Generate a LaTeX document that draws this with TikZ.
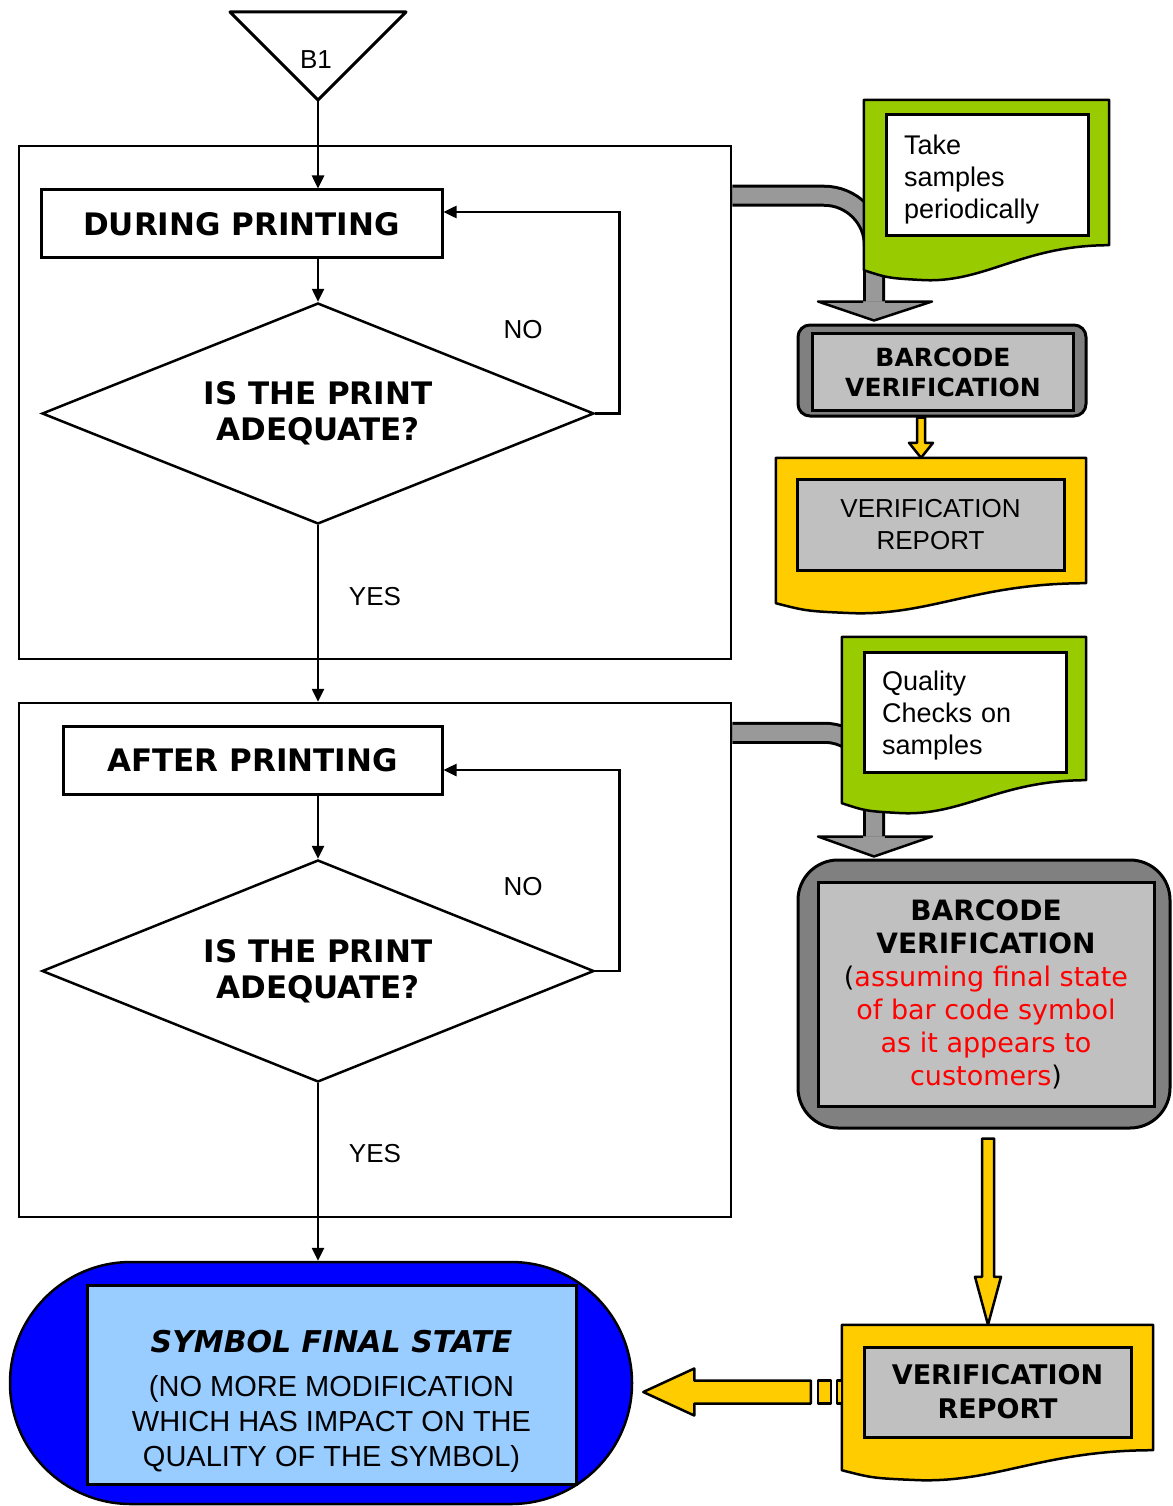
\documentclass[tikz,border=0pt]{standalone}
\usepackage{fontspec}
\setmainfont{Liberation Sans}
\newfontfamily\verdana{DejaVu Sans}
\usetikzlibrary{arrows.meta,shapes.geometric,shapes.misc,calc}

\definecolor{docgreen}{HTML}{99CC00}
\definecolor{docyellow}{HTML}{FFCC00}
\definecolor{boxgray}{HTML}{C0C0C0}
\definecolor{framegray}{HTML}{808080}
\definecolor{bandgray}{HTML}{999999}
\definecolor{finalblue}{HTML}{0000FF}
\definecolor{symbolblue}{HTML}{99CCFF}

\newcommand{\redtxt}[1]{\textcolor{red}{#1}}
\newcommand{\bigbold}[1]{{\bfseries\fontsize{28}{33}\selectfont #1}}

% document body with a wavy bottom, drawn round an empty node
\newcommand{\docbody}[3]{%
  \filldraw[fill=#2, line width=2.5pt, line join=round]
    let \p1=(#1.north west), \p2=(#1.south east), \n1={\x2-\x1} in
    (\p1) -- (\x2,\y1) -- (\p2)
    .. controls (\x2-0.35*\n1,\y2) and (\x1+0.5*\n1,\y2-#3-12) .. (\x1+0.25*\n1,\y2-#3-10)
    .. controls (\x1+0.1*\n1,\y2-#3-8) .. (\x1,\y2-#3) -- cycle;}

% vertical block arrow: style, top, tip, shaft half, head half, head length
\newcommand{\vblock}[6]{%
  \filldraw[#1] let \p1=(#2), \p2=(#3) in
    (\x1-#4,\y1) -- (\x1-#4,\y2+#6) -- (\x1-#5,\y2+#6) -- (\x1,\y2)
    -- (\x1+#5,\y2+#6) -- (\x1+#4,\y2+#6) -- (\x1+#4,\y1) -- cycle;}

\begin{document}
\begin{tikzpicture}[x=1pt, y=1pt, >={Triangle[length=13pt,width=12pt]},
    every node/.style={align=center, inner sep=0pt},
    frame/.style={draw, line width=2.5pt, minimum width=712pt},
    stagebox/.style={draw, line width=3pt, minimum height=68pt,
      font=\verdana\bfseries\fontsize{31}{36}\selectfont},
    ask/.style={draw, diamond, aspect=2.5, line width=2.5pt, minimum width=552pt, minimum height=221pt,
      font=\verdana\bfseries\fontsize{31}{36}\selectfont},
    answer/.style={font=\fontsize{26}{30}\selectfont},
    flow/.style={->, line width=2.5pt},
    note/.style={draw, line width=3pt, fill=white, text width=166pt, inner xsep=18pt,
      align=left, minimum height=121pt, font=\fontsize{27}{32}\selectfont},
    reportbox/.style={draw, line width=3pt, fill=boxgray, minimum width=267pt},
    band/.style={line width=3pt, double=bandgray, double distance=16pt, rounded corners=50pt},
    bandhead/.style={fill=bandgray, line width=2.5pt, line join=round},
    yblock/.style={fill=docyellow, line width=2.5pt, line join=round}]

  \useasboundingbox (0,0) rectangle (1172,-1506);

  % left column
  \draw[line width=3pt, line join=round] (230,-12) -- (406,-12) -- (318,-100) -- cycle;
  \coordinate (b1tip) at (318,-100);
  \node[answer] (b1) at (316,-60) {B1};

  \node[frame, minimum height=513pt] (frame1) at (375,-402.5) {};
  \node[frame, minimum height=514pt] (frame2) at (375,-960) {};

  \node[stagebox, minimum width=401pt] (during) at (241.5,-224) {DURING PRINTING};
  \node[ask] (ask1) at (318,-413.5) {IS THE PRINT\\ADEQUATE?};
  \node[stagebox, minimum width=379pt] (after) at (252.5,-760) {AFTER PRINTING};
  \node[ask, minimum height=222pt] (ask2) at (318,-971) {IS THE PRINT\\ADEQUATE?};

  \node[answer] (no1) at (523,-330) {NO};
  \node[answer] (yes1) at (375,-597) {YES};
  \node[answer] (no2) at (523,-887) {NO};
  \node[answer] (yes2) at (375,-1154) {YES};

  \draw[flow] (b1tip) -- (b1tip |- during.north);
  \draw[flow] (during.south -| ask1.north) -- (ask1.north);
  \draw[flow] (ask1.east) -- ++(24,0) |- ([yshift=12pt]during.east);
  \draw[flow] (ask1.south) -- (ask1.south |- frame2.north);
  \draw[flow] (after.south -| ask2.north) -- (ask2.north);
  \draw[flow] (ask2.east) -- ++(24,0) |- ([yshift=-10pt]after.east);

  \node[draw, rounded rectangle, fill=finalblue, line width=2.5pt,
        minimum width=622pt, minimum height=242pt] (final) at (321,-1383) {};
  \node[draw, fill=symbolblue, line width=3pt, minimum width=489pt, minimum height=199pt]
    (finalbox) at (331.5,-1384.5) {};
  \node[font=\fontsize{29}{35}\selectfont] (finaltxt) at (331.5,-1401)
    {{\verdana\bfseries\itshape\fontsize{30}{36}\selectfont SYMBOL FINAL STATE}\\[9pt]
     (NO MORE MODIFICATION\\WHICH HAS IMPACT ON THE\\QUALITY OF THE SYMBOL)};
  \draw[flow] (ask2.south) -- (ask2.south |- final.north);

  % right column
  \node[draw, line width=3pt, fill=framegray, rounded corners=12pt,
        minimum width=288pt, minimum height=91pt] (verif1) at (942,-370.5) {};
  \node[draw, line width=3pt, fill=boxgray, minimum width=261pt, minimum height=77pt,
        font=\verdana\bfseries\fontsize{25}{30}\selectfont] (verif1txt) at (943,-372)
    {BARCODE\\VERIFICATION};

  \node[draw, line width=3pt, fill=framegray, rounded corners=40pt,
        minimum width=372pt, minimum height=268pt] (verif2) at (984,-994) {};
  \node[draw, line width=3pt, fill=boxgray, minimum width=336pt, minimum height=224pt,
        font=\verdana\fontsize{27}{33}\selectfont] (verif2txt) at (986,-994)
    {\bigbold{BARCODE}\\\bigbold{VERIFICATION}\\(\redtxt{assuming final state}\\
     \redtxt{of bar code symbol}\\\redtxt{as it appears to}\\\redtxt{customers})};

  \node[minimum width=245pt, minimum height=145pt] (take) at (986.5,-172.5) {};
  \node[minimum width=310pt, minimum height=125pt] (report1) at (931,-520.5) {};
  \node[minimum width=244pt, minimum height=143pt] (check) at (964,-708.5) {};
  \node[minimum width=311pt, minimum height=125pt] (report2) at (997.5,-1387.5) {};

  % gray bands from the frames
  \draw[band] ($(frame1.north east)+(0,-51)$) -| ($(verif1.north)+(-68,22)$);
  \draw[band] ($(frame2.north east)+(0,-31)$) -| ($(verif2.north)+(-110,22)$);

  \docbody{take}{docgreen}{25}
  \docbody{report1}{docyellow}{20}
  \docbody{check}{docgreen}{23}
  \docbody{report2}{docyellow}{20}

  \node[note] (taketxt) at (987,-175.5) {\rule{0pt}{27pt}Take\\samples\\periodically};
  \node[note, minimum height=120pt] (checktxt) at (965,-712) {\rule{0pt}{27pt}Quality\\Checks on\\samples};
  \node[reportbox, minimum height=91pt, font=\fontsize{26}{32}\selectfont]
    (report1txt) at (930.5,-524.5) {VERIFICATION\\REPORT};
  \node[reportbox, minimum height=90pt, font=\verdana\bfseries\fontsize{27}{34}\selectfont]
    (report2txt) at (997.5,-1392) {VERIFICATION\\REPORT};

  % arrow heads and block arrows
  \filldraw[bandhead] let \p1=($(verif1.north)+(-68,0)$) in
    (\x1-11,\y1+22) -- (\x1-56,\y1+22) -- (\x1,\y1+3) -- (\x1+58,\y1+22) -- (\x1+11,\y1+22);
  \filldraw[bandhead] let \p1=($(verif2.north)+(-110,0)$) in
    (\x1-11,\y1+22) -- (\x1-56,\y1+22) -- (\x1,\y1+2) -- (\x1+58,\y1+22) -- (\x1+11,\y1+22);

  \vblock{yblock}{$(verif1.south)+(-21,0)$}{report1.north}{4}{12}{15}
  \vblock{yblock}{$(verif2.south)+(4,-9)$}{report2.north}{6}{13}{48}

  \filldraw[yblock] let \p1=(report2.west), \p2=(final.east) in
    (\x2+10,\y1-4.5) -- (\x2+61,\y1+19) -- (\x2+61,\y1+7) -- (\x1-31,\y1+7)
    -- (\x1-31,\y1-16) -- (\x2+61,\y1-16) -- (\x2+61,\y1-28) -- cycle;
  \filldraw[yblock] let \p1=(report2.west) in
    (\x1-24,\y1+7) rectangle (\x1-11,\y1-16)
    (\x1-5,\y1+7) rectangle (\x1,\y1-16);

\end{tikzpicture}
\end{document}
